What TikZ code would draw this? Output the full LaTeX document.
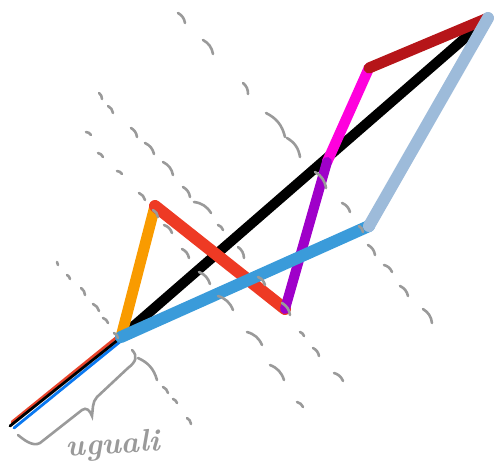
\documentclass[tikz,border=0pt]{standalone}
\usepackage{xcolor}
\usepackage{tikz}
\usetikzlibrary{calc}

\definecolor{inkorange}{HTML}{F99B00}
\definecolor{inkred}{HTML}{EE3A24}
\definecolor{inkpurple}{HTML}{9F00C9}
\definecolor{inkmagenta}{HTML}{FF00DD}
\definecolor{inkdarkred}{HTML}{B61519}
\definecolor{inklightblue}{HTML}{9DBBDA}
\definecolor{inkblue}{HTML}{3A9BDA}
\definecolor{thinred}{HTML}{E8432A}
\definecolor{thinblue}{HTML}{0A78F0}
\definecolor{pencilgray}{HTML}{9A9A9A}

\begin{document}
\begin{tikzpicture}[x=1pt,y=-1pt,
    vec/.style={line width=#1,line cap=round},
    thinvec/.style={line width=2.8pt,line cap=round},
    pencil/.style={draw=pencilgray,line width=2.6pt,line cap=round}]
  \useasboundingbox (0,0) rectangle (496,468);
  % points of the polygon
  \coordinate (O) at (121,337);
  \coordinate (A) at (155,206);
  \coordinate (B) at (285,309);
  \coordinate (C) at (327,162);
  \coordinate (D) at (369,68);
  \coordinate (E) at (488,18);
  \coordinate (F) at (369,226);
  % the three equal segments
  \coordinate (r0) at (12,422); \coordinate (r1) at (117,337);
  \coordinate (k0) at (10,426); \coordinate (k1) at (119,339);
  \coordinate (b0) at (14,428); \coordinate (b1) at (121,341);
  \draw[thinvec,thinred] (r0) -- (r1);
  \draw[thinvec,thinblue] (b0) -- (b1);
  \draw[thinvec,black] (k0) -- (k1);
  % vectors
  \draw[vec=10pt,black] (O) -- (E);
  \draw[vec=11pt,inkorange] (O) -- (A);
  \draw[vec=12pt,inkred] (A) -- (B);
  \draw[vec=10.5pt,inkmagenta] (C) -- (D);
  \draw[vec=10pt,inkpurple] (B) -- (C);
  \draw[vec=12pt,inkblue] (O) -- (F);
  \draw[vec=11pt,inkdarkred] (D) -- (E);
  \draw[vec=12pt,inklightblue] (F) -- (E);
  % pencil dashes
  \foreach \x/\y/\u/\v in {178/13/185/23, 203/40/213/54, 243/83/248/94,
      266/113/285/137, 287/138/300/157, 315/172/326/188, 342/203/350/212,
      359/226/363/232, 368/245/375/255, 384/265/392/272, 400/286/408/296,
      423/309/432/323,
      99/93/102/99, 108/106/113/113, 131/128/137/137, 145/143/154/154,
      163/162/173/175, 183/187/190/197, 194/202/211/213, 218/225/223/230,
      238/247/244/258, 258/277/265/285, 282/303/290/315, 300/332/304/336,
      313/348/319/356, 334/373/343/381,
      86/132/91/135, 98/153/103/157, 117/171/122/174, 139/193/145/200,
      153/210/158/217, 164/225/172/233, 182/249/189/258, 199/272/210/284,
      218/296/233/310, 247/332/262/345, 270/365/284/380, 297/402/303/407,
      57/262/58/265, 67/275/70/279, 81/288/85/295, 93/304/99/311,
      103/318/108/323, 114/333/118/338, 138/358/157/380, 163/387/168/393,
      173/399/177/403, 187/418/191/424}
    \draw[pencil] (\x,\y) to[bend left=25] (\u,\v);
  % brace
  \draw[pencil] (132,350) .. controls (138,356) and (136,362) .. (128,368)
    -- (97,397) .. controls (92,402) and (93,410) .. (92,416)
    .. controls (90,410) and (86,407) .. (82,410)
    -- (40,443) .. controls (33,447) and (24,440) .. (18,435);
  \node[text=pencilgray,rotate=4] (label) at (113,446)
    {\fontsize{31}{33}\selectfont\bfseries\itshape uguali};
\end{tikzpicture}
\end{document}
